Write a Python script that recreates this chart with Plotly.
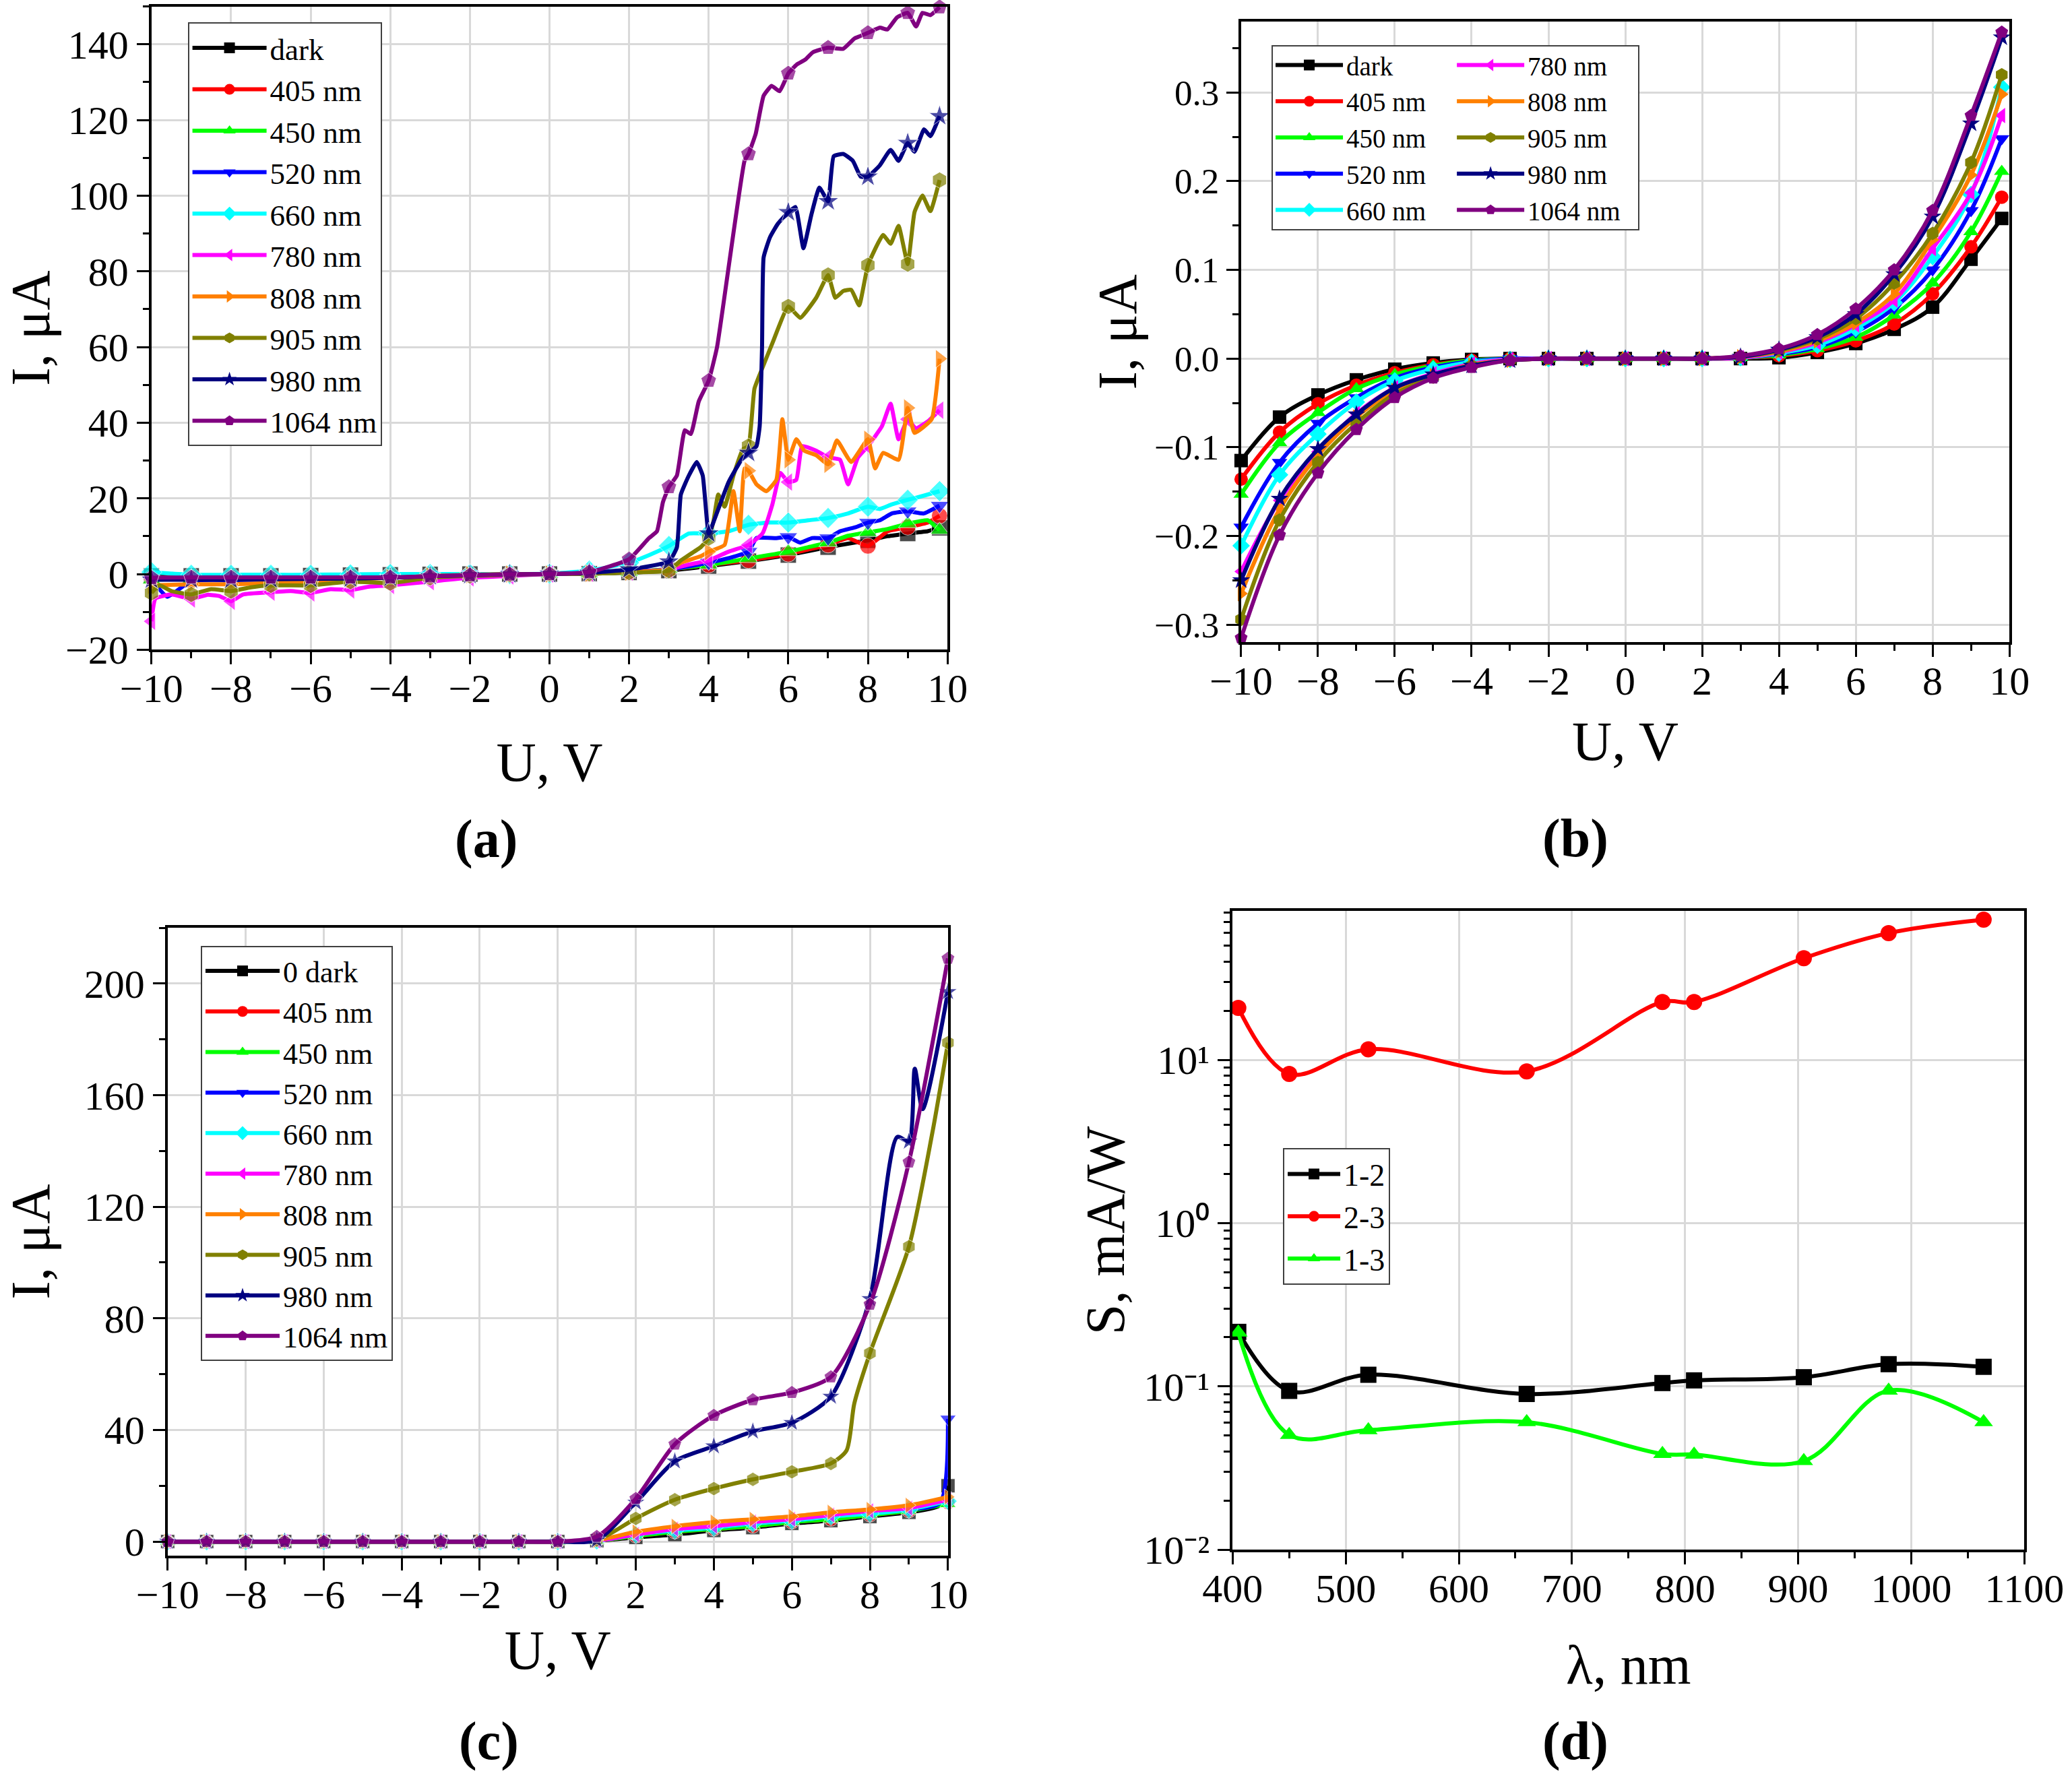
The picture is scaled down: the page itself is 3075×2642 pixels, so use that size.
import plotly.graph_objects as go

FONT = "Liberation Serif"

# ---------------- Panel (a): I-V under illumination ----------------
A_X_DARK = [-10, -9, -8, -7, -6, -5, -4, -3, -2, -1, 0, 1, 2, 3, 4, 5, 6, 7, 7.5, 8, 8.5, 9, 9.5, 9.8]
A_Y_DARK = [-0.5, -0.5, -0.5, -0.5, -0.4, -0.3, -0.2, -0.1, 0, 0, 0, 0.1, 0.4, 0.9, 2.1, 3.4, 5.0, 7.1, 8.0, 8.9, 10.0, 10.7, 11.3, 12.2]

A_X_405 = [-10, -9, -8, -7, -6, -5, -4, -3, -2, -1, 0, 1, 2, 3, 4, 5, 6, 6.5, 7, 7.5, 8, 8.5, 9, 9.5, 9.8]
A_Y_405 = [-1.0, -0.9, -0.8, -0.7, -0.6, -0.5, -0.3, -0.2, -0.1, 0, 0, 0.1, 0.5, 1.2, 2.4, 3.6, 5.3, 6.5, 7.7, 9.5, 7.4, 11.3, 12.4, 13.6, 15.4]

A_X_450 = [-10, -9, -8, -7, -6, -5, -4, -3, -2, -1, 0, 1, 2, 3, 4, 4.5, 5, 5.5, 6, 6.5, 7, 7.5, 8, 8.5, 9, 9.5, 9.8]
A_Y_450 = [-1.5, -1.3, -1.1, -0.9, -0.7, -0.5, -0.3, -0.2, -0.1, 0, 0, 0.1, 0.5, 1.3, 2.4, 3.2, 4.1, 5.0, 5.9, 7.1, 8.3, 10.1, 11.0, 11.9, 13.3, 14.2, 11.6]

A_X_520 = [-10, -9.6, -9, -8, -7, -6, -5, -4, -3, -2, -1, 0, 1, 2, 3, 3.5, 4, 4.5, 5, 5.2, 5.7, 6, 6.3, 6.6, 7, 7.3, 7.7, 8, 8.3, 8.6, 9, 9.4, 9.8]
A_Y_520 = [-1.5, -6.0, -1.8, -1.6, -1.4, -1.2, -1.0, -0.6, -0.3, -0.1, 0, 0, 0.2, 0.6, 1.2, 2.0, 3.0, 4.2, 5.9, 9.5, 9.5, 9.8, 8.3, 9.5, 9.5, 11.3, 12.4, 13.6, 14.2, 16.0, 16.6, 16.0, 18.1]

A_X_660 = [-10, -9, -8, -7, -6, -5, -4, -3, -2, -1, 0, 1, 2, 2.5, 3, 3.5, 4, 4.5, 5, 5.5, 6, 6.5, 7, 7.5, 8, 8.3, 8.6, 9, 9.4, 9.8]
A_Y_660 = [0.5, -0.2, -0.2, -0.2, -0.2, -0.1, 0, 0, 0, 0, 0.1, 0.9, 3.0, 5.0, 7.4, 10.7, 10.7, 11.3, 13.0, 13.6, 13.6, 14.2, 14.8, 16.0, 17.8, 17.2, 18.4, 19.6, 20.7, 21.9]

A_X_780 = [-10, -9.9, -9.5, -9, -8.6, -8.3, -8, -7.7, -7, -6.5, -6, -5.5, -5, -4.5, -4, -3, -2, -1, 0, 1, 2, 3, 3.5, 4, 4.5, 5, 5.35, 5.6, 5.8, 6, 6.2, 6.35, 6.7, 7, 7.3, 7.5, 7.75, 8, 8.35, 8.57, 8.77, 9, 9.2, 9.5, 9.8]
A_Y_780 = [-12.5, -6.5, -5.4, -6.6, -5.5, -5.8, -7.2, -5.4, -4.8, -4.5, -5.0, -4.0, -4.2, -3.3, -3.0, -2.0, -1.0, -0.5, 0, 0.2, 0.5, 1.2, 2.5, 3.6, 5.9, 7.7, 10.7, 18.4, 26.7, 24.3, 24.9, 33.8, 32.6, 30.8, 30.2, 23.7, 30.8, 33.8, 39.0, 45.0, 35.6, 40.9, 38.5, 40.3, 43.3]

A_X_808 = [-10, -9, -8, -7, -6, -5, -4, -3, -2, -1, 0, 1, 2, 3, 3.3, 3.8, 4, 4.4, 4.62, 4.78, 4.9, 5, 5.2, 5.45, 5.7, 5.85, 6, 6.2, 6.4, 6.7, 7, 7.22, 7.58, 8, 8.18, 8.38, 8.77, 9, 9.17, 9.6, 9.8]
A_Y_808 = [-3.0, -2.7, -2.7, -2.4, -2.0, -1.5, -1.0, -0.5, -0.2, 0, 0, 0.2, 0.5, 1.2, 3.0, 4.7, 5.9, 7.7, 21.9, 11.3, 27.9, 27.3, 23.7, 21.9, 24.9, 40.9, 30.2, 35.6, 32.6, 31.4, 29.0, 35.3, 29.6, 35.6, 27.9, 32.0, 30.2, 43.9, 37.3, 40.9, 56.9]

A_X_905 = [-10, -9.8, -9.5, -9, -8.5, -8, -7.5, -7, -6, -5, -4, -3, -2, -1, 0, 1, 2, 3, 3.3, 3.8, 4, 4.12, 4.24, 4.4, 4.62, 4.86, 5, 5.15, 5.35, 5.6, 6, 6.3, 6.7, 7, 7.18, 7.38, 7.58, 7.78, 8, 8.38, 8.57, 8.77, 9, 9.17, 9.37, 9.57, 9.8]
A_Y_905 = [-5.0, -3.0, -4.5, -5.4, -4.0, -4.5, -3.5, -3.0, -3.0, -2.0, -2.4, -1.0, -0.5, -0.2, 0, 0.1, 0.4, 0.9, 3.6, 7.1, 9.5, 14.0, 21.0, 17.8, 26.0, 33.0, 33.8, 49.0, 54.5, 61.0, 70.7, 67.7, 73.0, 79.0, 73.0, 74.8, 75.1, 71.0, 81.6, 89.6, 87.3, 92.0, 81.9, 95.6, 100.0, 95.9, 104.1]

A_X_980 = [-10, -9, -8, -7, -6, -5, -4, -3, -2, -1, 0, 1, 2, 3, 3.2, 3.3, 3.5, 3.7, 3.85, 4, 4.2, 4.5, 4.86, 5, 5.2, 5.28, 5.34, 5.38, 5.54, 5.74, 6, 6.18, 6.38, 6.58, 6.78, 7, 7.14, 7.38, 7.62, 7.82, 8, 8.3, 8.57, 8.77, 9, 9.17, 9.41, 9.57, 9.8]
A_Y_980 = [-1.5, -1.5, -1.5, -1.4, -1.3, -1.2, -1.0, -0.6, -0.3, -0.1, 0, 0.3, 1.2, 3.3, 7.0, 21.0, 26.0, 29.6, 26.0, 10.7, 16.0, 24.3, 30.8, 32.0, 33.8, 39.0, 60.0, 83.7, 89.0, 92.6, 95.6, 97.0, 86.1, 95.0, 102.1, 98.5, 110.4, 111.0, 109.2, 105.0, 105.0, 108.0, 112.1, 109.2, 113.9, 111.6, 117.5, 115.7, 121.0]

A_X_1064 = [-10, -9, -8, -7, -6, -5, -4, -3, -2, -1, 0, 1, 2, 2.5, 2.7, 2.85, 3, 3.2, 3.4, 3.55, 3.75, 4, 4.21, 4.9, 5, 5.18, 5.38, 5.58, 5.78, 6, 6.22, 6.42, 6.62, 7, 7.38, 7.66, 8, 8.3, 8.49, 8.73, 9, 9.21, 9.37, 9.57, 9.8]
A_Y_1064 = [-1.0, -0.9, -0.9, -0.9, -0.9, -0.9, -0.9, -0.6, -0.3, -0.1, 0, 0.5, 3.9, 9.5, 11.3, 19.0, 23.0, 26.0, 38.0, 37.0, 45.6, 51.1, 60.0, 109.2, 111.0, 116.3, 126.4, 129.0, 127.6, 132.3, 134.7, 135.9, 137.9, 139.1, 138.8, 141.5, 143.0, 144.4, 143.9, 147.1, 148.3, 144.7, 148.3, 147.7, 149.8]

# ---------------- Panel (b): dark-range I-V ----------------
B_X = [-10, -9, -8, -7, -6, -5, -4, -3, -2, -1, 0, 1, 2, 3, 4, 5, 6, 7, 8, 9, 9.8]
B_Y_DARK = [-0.115, -0.066, -0.041, -0.024, -0.012, -0.005, -0.001, 0, 0, 0, 0, 0, 0, 0, 0.001, 0.007, 0.017, 0.033, 0.058, 0.112, 0.158]
B_Y_405 = [-0.136, -0.083, -0.051, -0.030, -0.016, -0.007, -0.002, 0, 0, 0, 0, 0, 0, 0.001, 0.003, 0.009, 0.020, 0.039, 0.073, 0.126, 0.182]
B_Y_450 = [-0.153, -0.095, -0.061, -0.034, -0.018, -0.008, -0.002, 0, 0, 0, 0, 0, 0, 0.001, 0.004, 0.011, 0.024, 0.049, 0.085, 0.143, 0.211]
B_Y_520 = [-0.190, -0.117, -0.073, -0.044, -0.022, -0.010, -0.003, 0, 0, 0, 0, 0, 0, 0.001, 0.005, 0.013, 0.030, 0.057, 0.100, 0.167, 0.248]
B_Y_660 = [-0.211, -0.131, -0.085, -0.049, -0.025, -0.012, -0.004, -0.001, 0, 0, 0, 0, 0, 0.001, 0.006, 0.015, 0.034, 0.063, 0.115, 0.185, 0.306]
B_Y_780 = [-0.240, -0.160, -0.105, -0.062, -0.033, -0.017, -0.006, -0.001, 0, 0, 0, 0, 0, 0.001, 0.007, 0.018, 0.038, 0.066, 0.124, 0.187, 0.274]
B_Y_808 = [-0.265, -0.170, -0.109, -0.066, -0.036, -0.019, -0.007, -0.002, 0, 0, 0, 0, 0, 0.002, 0.008, 0.020, 0.040, 0.073, 0.134, 0.207, 0.298]
B_Y_905 = [-0.294, -0.182, -0.117, -0.073, -0.040, -0.021, -0.008, -0.002, 0, 0, 0, 0, 0, 0.002, 0.009, 0.022, 0.045, 0.085, 0.141, 0.221, 0.320]
B_Y_980 = [-0.250, -0.158, -0.102, -0.063, -0.033, -0.018, -0.008, -0.002, 0, 0, 0, 0, 0, 0.002, 0.010, 0.024, 0.050, 0.095, 0.160, 0.265, 0.362]
B_Y_1064 = [-0.315, -0.199, -0.129, -0.080, -0.044, -0.022, -0.010, -0.002, 0, 0, 0, 0, 0, 0.003, 0.011, 0.027, 0.056, 0.100, 0.167, 0.274, 0.368]

# ---------------- Panel (c): I-V, second contact pair ----------------
C_X = [-10, -9, -8, -7, -6, -5, -4, -3, -2, -1, 0, 1, 2, 3, 4, 5, 6, 7, 8, 9, 10]
C_X_DARK = [-10, -9, -8, -7, -6, -5, -4, -3, -2, -1, 0, 1, 2, 3, 4, 5, 6, 7, 8, 9, 9.8, 10]
C_Y_DARK = [0, 0, 0, 0, 0, 0, 0, 0, 0, 0, 0, 0.3, 1.5, 2.5, 4, 5, 6.5, 7.5, 9, 10.5, 13, 20]
C_Y_405 = [0, 0, 0, 0, 0, 0, 0, 0, 0, 0, 0, 0.3, 2, 3.5, 4.5, 5.5, 7, 8, 9.5, 11, 14]
C_Y_450 = [0, 0, 0, 0, 0, 0, 0, 0, 0, 0, 0, 0.3, 2, 3.5, 4.5, 5.5, 7, 8, 9.5, 11, 13.5]
C_X_520 = [-10, -9, -8, -7, -6, -5, -4, -3, -2, -1, 0, 1, 2, 3, 4, 5, 6, 7, 8, 9, 9.8, 10]
C_Y_520 = [0, 0, 0, 0, 0, 0, 0, 0, 0, 0, 0, 0.3, 2.5, 4, 5, 6.5, 7.5, 9, 10.5, 11.5, 14, 44]
C_Y_660 = [0, 0, 0, 0, 0, 0, 0, 0, 0, 0, 0, 0.3, 2.5, 4, 5, 6.5, 7.5, 9, 10, 11.5, 14.5]
C_Y_780 = [0, 0, 0, 0, 0, 0, 0, 0, 0, 0, 0, 0.3, 2.5, 4.5, 5.5, 7, 8, 9.5, 11, 12, 15]
C_Y_808 = [0, 0, 0, 0, 0, 0, 0, 0, 0, 0, 0, 0.5, 3.5, 5.5, 7, 8, 9, 10.5, 11.5, 13, 16]
C_X_905 = [-10, -9, -8, -7, -6, -5, -4, -3, -2, -1, 0, 1, 2, 3, 4, 5, 6, 7, 7.4, 7.6, 8, 9, 9.6, 10]
C_Y_905 = [0, 0, 0, 0, 0, 0, 0, 0, 0, 0, 0, 0.5, 8.3, 15, 19, 22.3, 25, 28, 32.6, 49.5, 67.5, 105.7, 146.5, 178.8]
C_X_980 = [-10, -9, -8, -7, -6, -5, -4, -3, -2, -1, 0, 1, 2, 3, 4, 5, 6, 7, 8, 8.7, 9, 9.15, 9.35, 10]
C_Y_980 = [0, 0, 0, 0, 0, 0, 0, 0, 0, 0, 0, 0.5, 14, 28.8, 34.2, 39.5, 42.6, 52, 87, 145, 143.4, 169.5, 155, 197]
C_Y_1064 = [0, 0, 0, 0, 0, 0, 0, 0, 0, 0, 0, 1.8, 15.4, 34.9, 45.2, 50.8, 53.4, 59, 85, 136, 209]

# ---------------- Panel (d): spectral sensitivity ----------------
D_X = [405, 450, 520, 660, 780, 808, 905, 980, 1064]
D_S12 = [0.216, 0.094, 0.118, 0.090, 0.105, 0.109, 0.114, 0.137, 0.132]
D_S23 = [20.8, 8.2, 11.6, 8.5, 22.6, 22.6, 41.9, 59.7, 72.2]
D_S13 = [0.214, 0.0506, 0.054, 0.0605, 0.0387, 0.0383, 0.035, 0.0944, 0.0605]
D_TICKVALS = [0.01, 0.1, 1, 10]
D_TICKTEXT = ["10\u207b\u00b2", "10\u207b\u00b9", "10\u2070", "10\u00b9"]

# ---------------- names and styles ----------------
NAMES = ["dark", "405 nm", "450 nm", "520 nm", "660 nm", "780 nm", "808 nm", "905 nm", "980 nm", "1064 nm"]
NAMES_C = ["0 dark"] + NAMES[1:]
COLORS = ["#000000", "#FF0000", "#00FF00", "#0000FF", "#00FFFF", "#FF00FF", "#FF8000", "#808000", "#000080", "#800080"]
SYMBOLS = ["square", "circle", "triangle-up", "triangle-down", "diamond", "triangle-left",
           "triangle-right", "hexagon", "star", "pentagon"]
D_NAMES = ["1-2", "2-3", "1-3"]
D_COLORS = ["#000000", "#FF0000", "#00FF00"]
D_SYMBOLS = ["square", "circle", "triangle-up"]

A_SERIES = [(A_X_DARK, A_Y_DARK), (A_X_405, A_Y_405), (A_X_450, A_Y_450), (A_X_520, A_Y_520),
            (A_X_660, A_Y_660), (A_X_780, A_Y_780), (A_X_808, A_Y_808), (A_X_905, A_Y_905),
            (A_X_980, A_Y_980), (A_X_1064, A_Y_1064)]
B_SERIES = [B_Y_DARK, B_Y_405, B_Y_450, B_Y_520, B_Y_660, B_Y_780, B_Y_808, B_Y_905, B_Y_980, B_Y_1064]
C_SERIES = [(C_X_DARK, C_Y_DARK), (C_X, C_Y_405), (C_X, C_Y_450), (C_X_520, C_Y_520), (C_X, C_Y_660),
            (C_X, C_Y_780), (C_X, C_Y_808), (C_X_905, C_Y_905), (C_X_980, C_Y_980), (C_X, C_Y_1064)]
D_SERIES = [D_S12, D_S23, D_S13]


def marker_sizes(xs, size, mark_last):
    n = len(xs)
    return [size if (abs(x - round(x)) < 1e-9 or (mark_last and i == n - 1)) else 0
            for i, x in enumerate(xs)]


fig = go.Figure()
LW = 6

# panel (a)
for (xs, ys), name, col, sym in zip(A_SERIES, NAMES, COLORS, SYMBOLS):
    fig.add_trace(go.Scatter(x=xs, y=ys, mode="lines+markers", xaxis="x", yaxis="y",
                             line=dict(color=col, width=LW, shape="spline", smoothing=0.4),
                             marker=dict(symbol=sym, color=col, size=marker_sizes(xs, 24, True)),
                             showlegend=False, cliponaxis=False, name=name))
    fig.add_trace(go.Scatter(x=[None], y=[None], mode="lines+markers", xaxis="x", yaxis="y",
                             line=dict(color=col, width=LW), marker=dict(symbol=sym, color=col, size=20),
                             name=name, legend="legend"))

# panel (b)
for i, (ys, name, col, sym) in enumerate(zip(B_SERIES, NAMES, COLORS, SYMBOLS)):
    fig.add_trace(go.Scatter(x=B_X, y=ys, mode="lines+markers", xaxis="x2", yaxis="y2",
                             line=dict(color=col, width=LW, shape="spline"),
                             marker=dict(symbol=sym, color=col, size=20),
                             name=name, cliponaxis=False, legend="legend2" if i < 5 else "legend3"))

# panel (c)
for (xs, ys), name, col, sym in zip(C_SERIES, NAMES_C, COLORS, SYMBOLS):
    fig.add_trace(go.Scatter(x=xs, y=ys, mode="lines+markers", xaxis="x3", yaxis="y3",
                             line=dict(color=col, width=LW, shape="spline", smoothing=0.7),
                             marker=dict(symbol=sym, color=col, size=marker_sizes(xs, 21, False)),
                             showlegend=False, cliponaxis=False, name=name))
    fig.add_trace(go.Scatter(x=[None], y=[None], mode="lines+markers", xaxis="x3", yaxis="y3",
                             line=dict(color=col, width=LW), marker=dict(symbol=sym, color=col, size=20),
                             name=name, legend="legend4"))

# panel (d)
for ys, name, col, sym in zip(D_SERIES, D_NAMES, D_COLORS, D_SYMBOLS):
    fig.add_trace(go.Scatter(x=D_X, y=ys, mode="lines+markers", xaxis="x4", yaxis="y4",
                             line=dict(color=col, width=LW, shape="spline"),
                             marker=dict(symbol=sym, color=col, size=24),
                             name=name, cliponaxis=False, legend="legend5"))

TITLE_FONT = dict(family=FONT, size=82, color="black")


def axis(domain, anchor, rng, title, standoff, dtick=None, minor_dtick=None, letter="x",
         tick_size=60, **kw):
    d = dict(domain=domain, anchor=anchor, range=rng, showline=True, mirror=True,
             linecolor="black", linewidth=4, ticks="outside", ticklen=18, tickwidth=3,
             tickcolor="black", showgrid=True, gridcolor="#d9d9d9", gridwidth=3,
             zeroline=False, automargin=False,
             tickfont=dict(family=FONT, size=tick_size, color="black"),
             title=dict(text=title, font=TITLE_FONT, standoff=standoff))
    if letter == "x":
        d["ticklabelstandoff"] = -16
    if dtick is not None:
        d["dtick"] = dtick
        d["tick0"] = 0
    if minor_dtick is not None:
        d["minor"] = dict(dtick=minor_dtick, ticks="outside", ticklen=9, tickwidth=3,
                          tickcolor="black", showgrid=False)
    d.update(kw)
    return d


LOG_MINOR = [m * 10.0 ** e for e in (-2, -1, 0, 1) for m in range(2, 10)]

fig.update_layout(
    width=3075, height=2642,
    margin=dict(l=0, r=0, t=0, b=0, autoexpand=False),
    paper_bgcolor="white", plot_bgcolor="white",
    font=dict(family=FONT, color="black"),
    xaxis=axis([0.0731, 0.4573], "y", [-10, 10], "U, V", 48, 2, 1),
    yaxis=axis([0.6350, 0.9964], "x", [-20, 150], "I, μA", 30, 20, 10, letter="y"),
    xaxis2=axis([0.5990, 0.9698], "y2", [-10, 10], "U, V", 28, 2, 1),
    yaxis2=axis([0.6391, 0.9879], "x2", [-0.32, 0.38], "I, μA", 0, 0.1, 0.05, letter="y",
                tick_size=53, tickformat=".1f"),
    xaxis3=axis([0.0809, 0.4575], "y3", [-10, 10], "U, V", 22, 2, 1),
    yaxis3=axis([0.1261, 0.4788], "x3", [-5, 220], "I, μA", 89, 40, 20, letter="y"),
    xaxis4=axis([0.5949, 0.9770], "y4", [400, 1100], "λ, nm", 52, 100, 50),
    yaxis4=axis([0.1293, 0.4881], "x4", [-2, 1.91], "S, mA/W", 3, letter="y", type="log",
                tickmode="array", tickvals=D_TICKVALS, ticktext=D_TICKTEXT,
                minor=dict(tickmode="array", tickvals=LOG_MINOR, ticks="outside", ticklen=9,
                           tickwidth=3, tickcolor="black", showgrid=False)),
)

LEG = dict(xanchor="left", yanchor="top", xref="paper", yref="paper", bgcolor="white",
           bordercolor="#404040", borderwidth=2, tracegroupgap=0, itemclick=False,
           itemdoubleclick=False)
fig.update_layout(
    legend=dict(LEG, x=0.0906, y=0.9874, itemwidth=110, font=dict(family=FONT, size=45, color="black")),
    legend2=dict(LEG, x=0.6140, y=0.9755, itemwidth=100, borderwidth=0, bgcolor="rgba(0,0,0,0)",
                 font=dict(family=FONT, size=39, color="black")),
    legend3=dict(LEG, x=0.7015, y=0.9755, itemwidth=100, borderwidth=0, bgcolor="rgba(0,0,0,0)",
                 font=dict(family=FONT, size=39, color="black")),
    legend4=dict(LEG, x=0.0969, y=0.4686, itemwidth=110, font=dict(family=FONT, size=44, color="black")),
    legend5=dict(LEG, x=0.6192, y=0.3550, itemwidth=78, font=dict(family=FONT, size=46, color="black")),
)

# frame behind the two-column legend of panel (b)
fig.add_shape(type="rect", xref="paper", yref="paper", x0=0.6140, x1=0.7909, y0=0.8709, y1=0.9743,
              line=dict(color="#404040", width=2), fillcolor="white", layer="above")

LABEL_FONT = dict(family=FONT, size=80, color="black", weight="bold")
panel_labels = [("(a)", 0.2347, 0.5285), ("(b)", 0.7602, 0.5290),
                ("(c)", 0.2360, 0.0216), ("(d)", 0.7602, 0.0216)]
for text, x, y in panel_labels:
    fig.add_annotation(text=text, x=x, y=y, xref="paper", yref="paper", showarrow=False,
                       xanchor="center", yanchor="middle", font=LABEL_FONT)

fig.write_html("out.html", config={"displayModeBar": False},
               post_script="document.body.style.margin='0';document.body.style.overflow='hidden';")
